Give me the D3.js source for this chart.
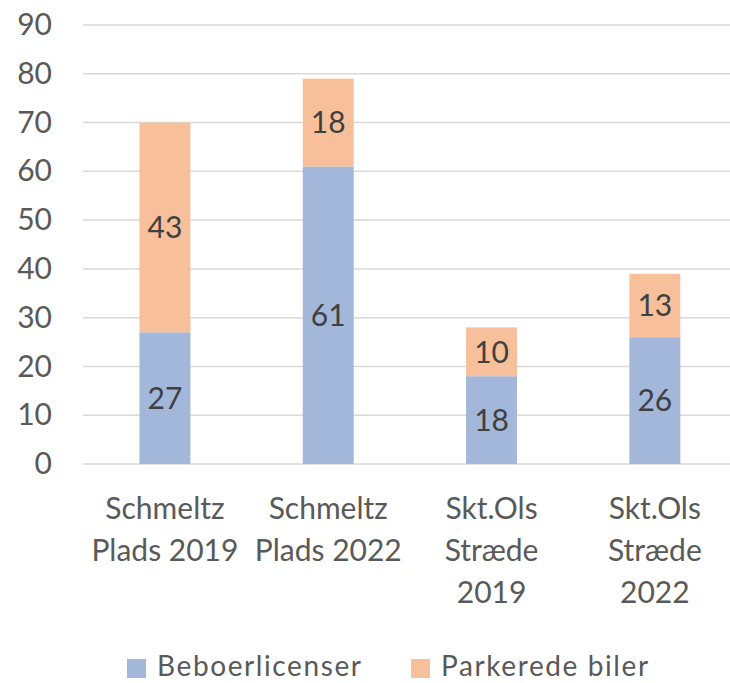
<!DOCTYPE html>
<html>
<head>
<meta charset="utf-8">
<script src="https://cdn.jsdelivr.net/npm/d3@7"></script>
<style>
  html, body { margin: 0; padding: 0; background: #fff; }
  svg { display: block; }
  text { font-family: Lato, "Noto Sans", sans-serif; }
</style>
</head>
<body>
<svg id="chart" width="730" height="683"></svg>
<script>
const categories = ["Schmeltz Plads 2019", "Schmeltz Plads 2022", "Skt.Ols Stræde 2019", "Skt.Ols Stræde 2022"];
const categoryLines = [["Schmeltz", "Plads 2019"], ["Schmeltz", "Plads 2022"], ["Skt.Ols", "Stræde", "2019"], ["Skt.Ols", "Stræde", "2022"]];
const seriesNames = ["Beboerlicenser", "Parkerede biler"];
const beboerlicenser = [27, 61, 18, 26];
const parkeredeBiler = [43, 18, 10, 13];
const yTicks = [0, 10, 20, 30, 40, 50, 60, 70, 80, 90];
const colors = ["#A2B7DA", "#F8C09A"];

const svg = d3.select("#chart");
const W = 730;

const x = d3.scaleBand().domain(categories).range([83.3, 736.5]).paddingInner(0.688).paddingOuter(0.344);
const y = d3.scaleLinear().domain([0, 90]).range([464, 25]);

// y axis labels
const yAxis = d3.axisLeft(y).tickValues(yTicks).tickSize(0).tickPadding(31);
const gAxis = svg.append("g").attr("transform", "translate(83,0)").call(yAxis);
gAxis.select(".domain").remove();
gAxis.selectAll("text").attr("fill", "#595959").style("font-size", "30px").style("font-family", "Lato, sans-serif");

// gridlines
svg.append("g").selectAll("line").data(yTicks).join("line")
  .attr("x1", 83).attr("x2", W)
  .attr("y1", d => y(d)).attr("y2", d => y(d))
  .attr("stroke", "#D9D9D9").attr("stroke-width", 1.5);

// stacked data
const table = categories.map((c, i) => ({cat: c, "Beboerlicenser": beboerlicenser[i], "Parkerede biler": parkeredeBiler[i]}));
const stack = d3.stack().keys(seriesNames)(table);

const gBars = svg.append("g");
stack.forEach((s, si) => {
  gBars.selectAll(null).data(s).join("rect")
    .attr("x", d => x(d.data.cat))
    .attr("width", x.bandwidth())
    .attr("y", d => y(d[1]))
    .attr("height", d => y(d[0]) - y(d[1]))
    .attr("fill", colors[si]);
  gBars.selectAll(null).data(s).join("text")
    .attr("x", d => x(d.data.cat) + x.bandwidth() / 2)
    .attr("y", d => (y(d[0]) + y(d[1])) / 2)
    .attr("dy", "0.36em")
    .attr("text-anchor", "middle")
    .attr("fill", "#404040")
    .style("font-size", "30px")
    .text(d => d[1] - d[0]);
});

// category labels
const gCat = svg.append("g");
categories.forEach((c, i) => {
  const t = gCat.append("text")
    .attr("text-anchor", "middle")
    .attr("fill", "#595959")
    .style("font-size", "30px");
  categoryLines[i].forEach((line, li) => {
    t.append("tspan").attr("x", x(c) + x.bandwidth() / 2).attr("y", 519 + li * 42).text(line);
  });
});

// legend
const legendX = [127, 411];
const gLeg = svg.append("g");
seriesNames.forEach((n, i) => {
  gLeg.append("rect").attr("x", legendX[i]).attr("y", 659).attr("width", 19).attr("height", 19).attr("fill", colors[i]);
  gLeg.append("text").attr("x", legendX[i] + 30).attr("y", 676)
    .attr("fill", "#595959").style("font-size", "28px").style("letter-spacing", "1.6px").text(n);
});
</script>
</body>
</html>
